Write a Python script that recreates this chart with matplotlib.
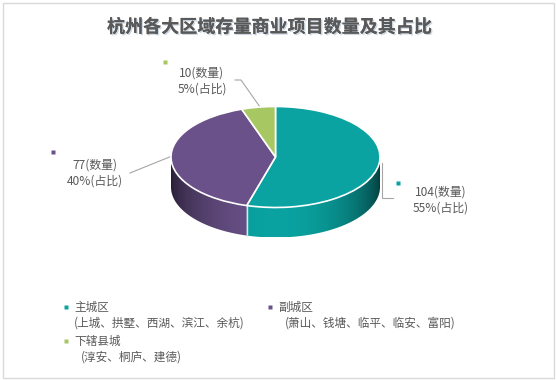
import numpy as np
import matplotlib
matplotlib.use("Agg")
import matplotlib.pyplot as plt
from matplotlib.patches import Polygon, Rectangle
import matplotlib.patheffects as pe
from matplotlib.colors import to_rgb

plt.rcParams['font.family'] = ['Noto Sans CJK SC', 'DejaVu Sans']

# ---------------- data ----------------
title = "杭州各大区域存量商业项目数量及其占比"
categories = ["主城区", "副城区", "下辖县城"]
sub_labels = ["(上城、拱墅、西湖、滨江、余杭)", "(萧山、钱塘、临平、临安、富阳)", "(淳安、桐庐、建德)"]
counts = [104, 77, 10]
percents = [55, 40, 5]
colors = ["#0AA3A1", "#6A5189", "#A6C762"]

W, H = 556, 380
fig = plt.figure(figsize=(W / 100, H / 100), dpi=100)

# background axes in pixel coordinates
bg = fig.add_axes([0, 0, 1, 1])
bg.set_xlim(0, W)
bg.set_ylim(H, 0)
bg.axis('off')
bg.add_patch(Rectangle((2.5, 2.5), W - 5, H - 5, fill=False, ec="#D9D9DE", lw=1))

bg.text(269, 27, title, ha='center', va='center', fontsize=13, fontweight='bold',
        color='#595959',
        path_effects=[pe.withSimplePatchShadow(offset=(1, -1), shadow_rgbFace='#9fb3c8', alpha=0.5),
                      pe.Normal()])

# ---------------- 3D pie ----------------
cx, cy, rx, ry, depth_px = 275.5, 157.0, 104.5, 50.5, 30.0
xl = (-1.3, 1.3)
yl = (-1.9, 1.3)
left = (cx + xl[0] * rx) / W
width = (xl[1] - xl[0]) * rx / W
bottom = (H - (cy - yl[0] * ry)) / H
height = (yl[1] - yl[0]) * ry / H
pax = fig.add_axes([left, bottom, width, height])

wedges, _ = pax.pie(counts, colors=colors, startangle=90, counterclock=False,
                    wedgeprops=dict(edgecolor='white', linewidth=1.2, zorder=5))
pax.set_aspect('auto')
pax.set_xlim(*xl)
pax.set_ylim(*yl)
pax.axis('off')

d = depth_px / ry


def shade_x(x):
    # front wall: angle t in (180, 360), x = cos t -> brightness from -sin t
    s = np.sqrt(np.clip(1 - x ** 2, 0, 1))
    return 0.36 + 0.64 * s ** 1.3


xs_grid = np.linspace(-1, 1, 600)
fac = shade_x(xs_grid)

for w, col in zip(wedges, colors):
    t1, t2 = w.theta1 % 360, w.theta2 % 360
    ranges = [(t1, 360), (0, t2)] if t2 <= t1 else [(t1, t2)]
    base = np.array(to_rgb(col))
    for a, b in ranges:
        a2, b2 = max(a, 180), min(b, 360)
        if b2 <= a2:
            continue
        ts = np.radians(np.linspace(a2, b2, 200))
        xs, ys = np.cos(ts), np.sin(ts)
        pts = np.concatenate([np.column_stack([xs, ys]),
                              np.column_stack([xs[::-1], ys[::-1] - d])])
        poly = Polygon(pts, closed=True, fc='none', ec='none', zorder=2)
        pax.add_patch(poly)
        img = np.clip(base[None, None, :] * fac[None, :, None], 0, 1)
        img = np.repeat(img, 2, axis=0)
        im = pax.imshow(img, extent=(-1, 1, -1 - d, 0.05), aspect='auto',
                        interpolation='bilinear', zorder=2, origin='lower')
        im.set_clip_path(poly)

pax.set_xlim(*xl)
pax.set_ylim(*yl)

# boundary line on side wall at front slice junctions
for w in wedges:
    t = w.theta1 % 360
    if 180 < t < 360:
        x0, y0 = np.cos(np.radians(t)), np.sin(np.radians(t))
        pax.plot([x0, x0], [y0, y0 - d], color='#DDE6EE', lw=1.0, zorder=3)

# ---------------- data labels ----------------
lab_col = '#595959'
label_pos = [(441, 200), (95, 173), (202, 81)]
marker_pos = [(398, 183), (53, 152), (165, 62)]
leaders = [[(393, 198), (382, 198), (382, 163)],
           [(130, 173), (172, 156)],
           [(235, 80), (241, 80), (260, 107)]]
for i in range(len(counts)):
    bg.text(label_pos[i][0], label_pos[i][1], f"{counts[i]}(数量)\n{percents[i]}%(占比)",
            ha='center', va='center', fontsize=8.6, color=lab_col, linespacing=1.25)
    bg.plot(*marker_pos[i], marker='s', ms=3, color=colors[i], mec='none')
    xs, ys = zip(*leaders[i])
    bg.plot(xs, ys, color='#A6A6A6', lw=0.8)

# ---------------- legend ----------------
leg_pos = [(65.7, 307), (269.5, 307), (65.7, 341)]
sub_dx = [0, 7, 6.5]
for i, cat in enumerate(categories):
    mx, my = leg_pos[i]
    bg.plot(mx, my - 0.5, marker='s', ms=3.5, color=colors[i], mec='none')
    bg.text(mx + 8.3, my, cat, ha='left', va='center', fontsize=8.4, color=lab_col)
    bg.text(mx + 8.3 + sub_dx[i], my + 16, sub_labels[i], ha='left', va='center',
            fontsize=8.4, color=lab_col)

fig.savefig("out.png", dpi=100)
